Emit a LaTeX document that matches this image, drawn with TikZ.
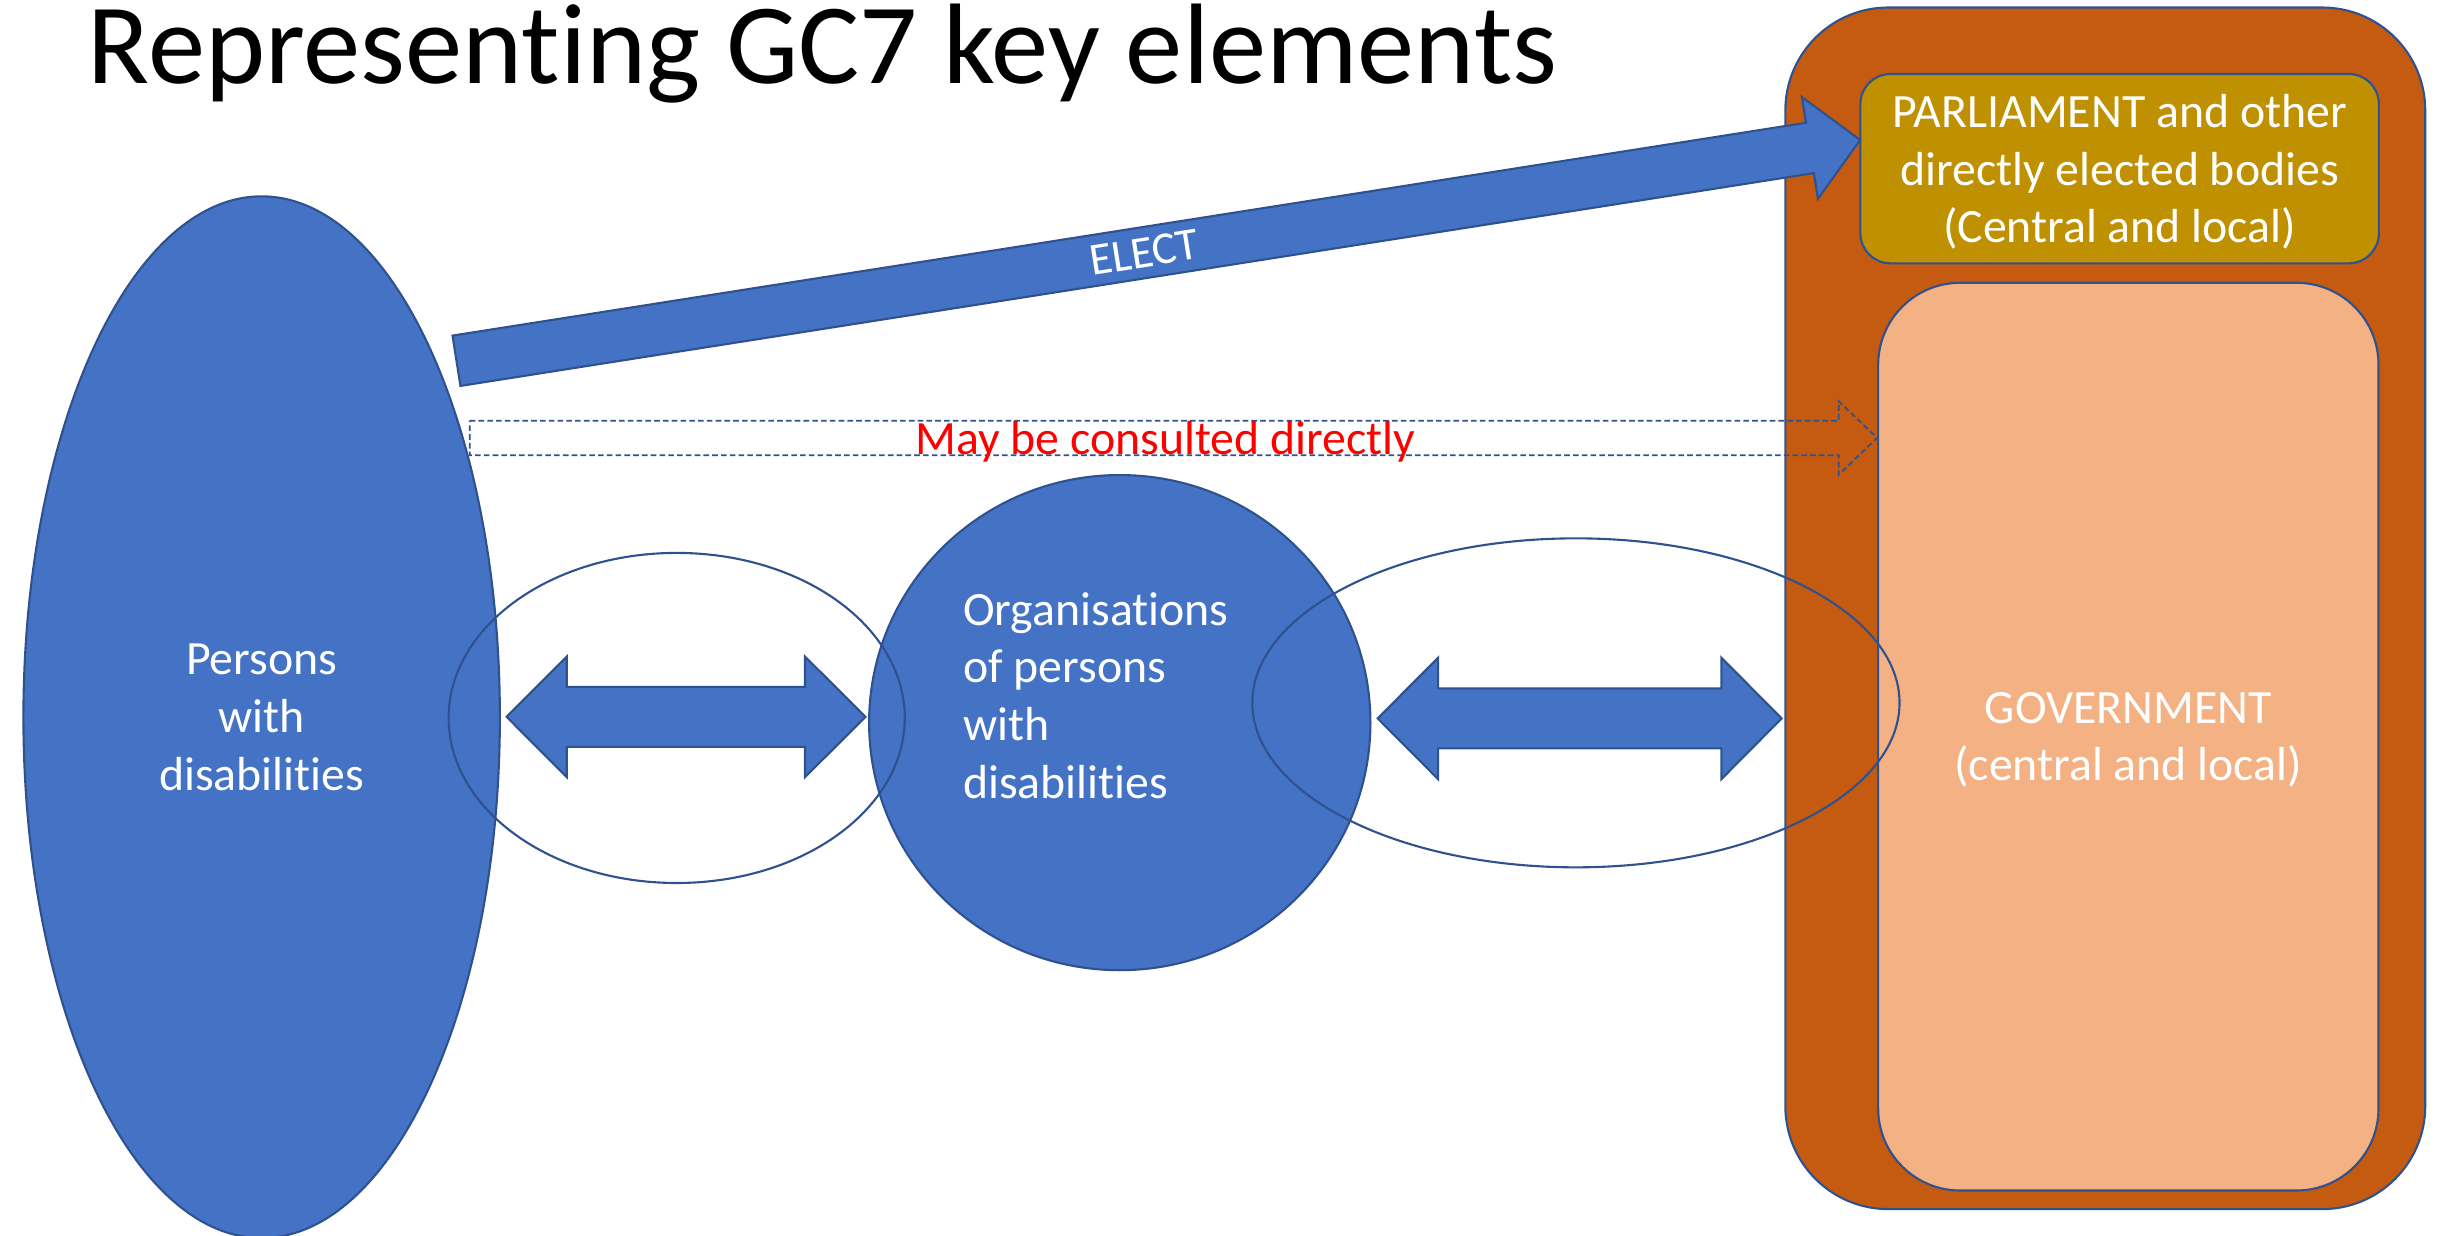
\documentclass[tikz,border=0pt]{standalone}
\usepackage{fontspec}
\setmainfont{Carlito}[Ligatures=NoCommon]
\usetikzlibrary{shapes.geometric,calc}
\definecolor{pblue}{HTML}{4472C4}
\definecolor{pline}{HTML}{2F528F}
\definecolor{porange}{HTML}{C55A11}
\definecolor{pgold}{HTML}{BF9000}
\definecolor{psalmon}{HTML}{F4B183}
\newcommand\gcbody{\fontsize{13.6pt}{16.4pt}\selectfont}
\newcommand\gcelect{\fontsize{13pt}{15pt}\selectfont}
\newcommand\gctitle{\fontsize{32.6pt}{38pt}\selectfont}
\begin{document}
\begin{tikzpicture}[x=0.015574cm,y=-0.015574cm,
  outl/.style={draw=pline,line width=0.6pt},
  blob/.style={ellipse,outl,fill=pblue,inner sep=0pt,text=white,align=center,font=\gcbody},
  ring/.style={ellipse,outl,inner sep=0pt},
  box/.style={rectangle,outl,inner sep=0pt,text=white,align=center,font=\gcbody},
  blockarrow/.style={outl,fill=pblue,line join=miter},
  consultarrow/.style={draw=pline,line width=0.5pt,dash pattern=on 1.6pt off 0.9pt},
  lower/.style={text depth=0pt}
]
\useasboundingbox (0,0) rectangle (1568,793.6);

% title
\node[anchor=base west,inner sep=0pt,font=\gctitle] (title) at (56,53.5) {Representing GC7 key elements};

% right-hand boxes
\node[box,fill=porange,rounded corners=1.03cm,minimum width=6.401cm,minimum height=12.02cm] (outer) at (1351.8,390.6) {};
\node[box,fill=pgold,rounded corners=0.3cm,minimum width=5.186cm,minimum height=1.894cm] (parl) at (1361,108.3) {};
\node[text=white,font=\gcbody,align=center,inner sep=0pt,lower] (parltext) at (parl.center)
  {PARLIAMENT and other\\directly elected bodies\\(Central and local)};
\node[box,fill=psalmon,rounded corners=0.82cm,minimum width=5.005cm,minimum height=9.08cm] (gov) at (1366.6,473) {};
\node[text=white,font=\gcbody,align=center,inner sep=0pt,lower] (govtext) at (gov.center)
  {GOVERNMENT\\(central and local)};

% persons and organisations
\node[blob,minimum width=4.766cm,minimum height=10.42cm] (persons) at (168,460.5) {};
\node[text=white,font=\gcbody,align=center,inner sep=0pt,lower] (personstext) at (persons.center)
  {Persons\\with\\disabilities};
\node[blob,minimum width=5.015cm,minimum height=4.953cm] (org) at (719,464) {};
\node[text=white,font=\gcbody,align=left,anchor=west,inner sep=0pt] (orgtext) at (618,446.5)
  {Organisations\\of persons\\with\\disabilities};

% ELECT arrow (block arrow from persons to parliament)
\coordinate (etail) at (293.1,231.65);
\coordinate (etip) at ($(parl.west)+(0.6,-18.4)$);
\path let \p1=($(etip)-(etail)$), \n1={atan2(\y1,\x1)}, \n2={veclen(\x1,\y1)} in
  \pgfextra{\xdef\eang{\n1}\xdef\elen{\n2}};
\begin{scope}[shift={(etail)},rotate=\eang,x=1pt,y=1pt]
  \draw[blockarrow] (0,-7.25) -- (\elen-14.5,-7.25) -- (\elen-14.5,-14.65) -- (\elen,0)
    -- (\elen-14.5,14.65) -- (\elen-14.5,7.25) -- (0,7.25) -- cycle;
\end{scope}
\path let \p1=($(etip)-(etail)$), \n1={atan2(\y1,\x1)} in
  node[rotate=\n1,text=white,font=\gcelect,inner sep=0pt] (electlabel) at ($(etail)!0.49!(etip)$) {ELECT};

% rings
\node[ring,minimum width=4.563cm,minimum height=3.302cm] (lring) at (434.5,461) {};
\node[ring,minimum width=6.474cm,minimum height=3.291cm] (rring) at (1011.9,451.3) {};

% double arrows
\coordinate (la) at (325.3,460.3);
\coordinate (lb) at (555.8,460.3);
\draw[blockarrow] (la) -- ($(la)+(38.6,-38.7)$) -- ($(la)+(38.6,-19.25)$) -- ($(lb)+(-38.9,-19.25)$)
  -- ($(lb)+(-38.9,-38.7)$) -- (lb) -- ($(lb)+(-38.9,38.7)$) -- ($(lb)+(-38.9,19.25)$)
  -- ($(la)+(38.6,19.25)$) -- ($(la)+(38.6,38.7)$) -- cycle;
\coordinate (ra) at (884.6,461.3);
\coordinate (rb) at (1144,461.3);
\draw[blockarrow] (ra) -- ($(ra)+(38.8,-39)$) -- ($(ra)+(38.8,-19.25)$) -- ($(rb)+(-38.7,-19.25)$)
  -- ($(rb)+(-38.7,-39)$) -- (rb) -- ($(rb)+(-38.7,39)$) -- ($(rb)+(-38.7,19.25)$)
  -- ($(ra)+(38.8,19.25)$) -- ($(ra)+(38.8,39)$) -- cycle;

% consulted arrow (dashed outline block arrow from persons to government)
\coordinate (dtail) at (301.6,281.2);
\coordinate (dtip) at (gov.west |- dtail);
\draw[consultarrow] (dtail) ++(0,-11.05) -- ($(dtip)+(-24.6,-11.05)$) -- ($(dtip)+(-24.6,-23.55)$)
  -- (dtip) -- ($(dtip)+(-24.6,23.55)$) -- ($(dtip)+(-24.6,11.05)$) -- ($(dtail)+(0,11.05)$) -- cycle;
\node[text=red,font=\gcbody,inner sep=0pt,yshift=-0.7pt] (consulttext) at (748.2,282) {May be consulted directly};
\end{tikzpicture}
\end{document}
